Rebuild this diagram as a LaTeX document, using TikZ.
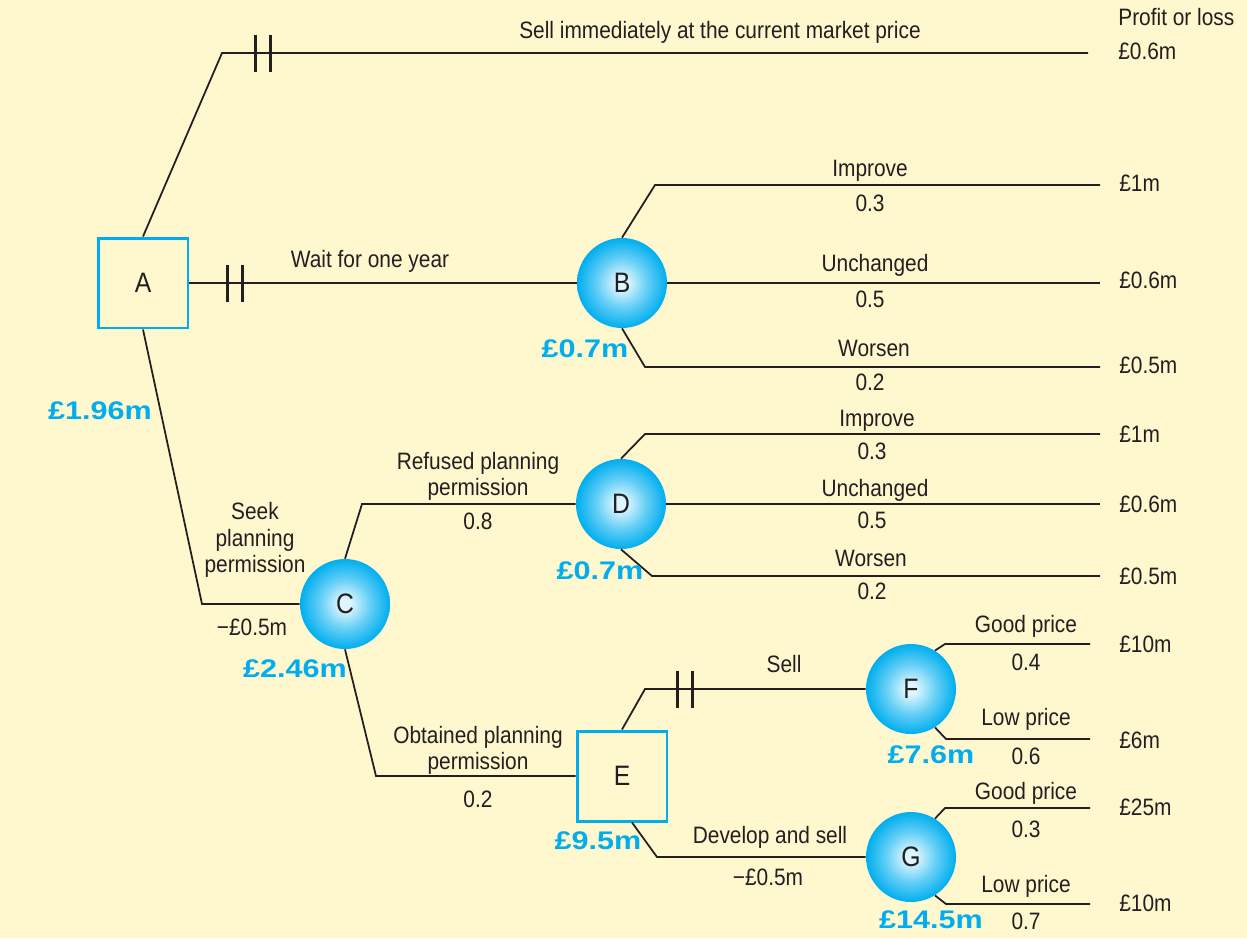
\documentclass[tikz,border=0pt]{standalone}
\usepackage{fontspec}
\setmainfont{Liberation Sans}[FakeStretch=0.88]
\newfontfamily\valfont{Liberation Sans}[FakeStretch=1.2]
\definecolor{bg}{RGB}{255,247,206}
\definecolor{ink}{RGB}{35,31,32}
\definecolor{vblue}{RGB}{0,174,239}
\definecolor{lblue}{RGB}{222,246,254}
\pgfdeclareradialshading{orb}{\pgfpoint{0bp}{0bp}}{color(0bp)=(lblue); color(3bp)=(lblue); color(14bp)=(vblue!55!lblue); color(25bp)=(vblue); color(50bp)=(vblue)}
\begin{document}
\begin{tikzpicture}[x=0.02cm,y=-0.02cm,
  txt/.style={font=\fontsize{13.5}{15.3}\selectfont, text=ink, inner sep=0pt, text height=0.72em, text depth=0pt, align=center, yshift=-0.9pt},
  rtxt/.style={txt, anchor=west},
  val/.style={font=\valfont\bfseries\fontsize{14.5}{16}\selectfont, text=vblue, inner sep=0pt, text height=0.72em, text depth=0pt, yshift=-0.6pt},
  decision/.style={draw=vblue, line width=1.7pt, minimum size=1.8cm, inner sep=0pt, font=\fontsize{16}{18}\selectfont, text=ink},
  chance/.style={circle, shading=orb, minimum size=1.8cm, inner sep=0pt, font=\fontsize{16}{18}\selectfont, text=ink},
  link/.style={line width=1pt, draw=ink},
  gate/.pic={\draw[line width=2.2pt, ink] (-7.5,-18.5)--(-7.5,18.5) (7.5,-18.5)--(7.5,18.5);}
]
\fill[bg] (0,0) rectangle (1247,938);
\useasboundingbox (0,0) rectangle (1247,938);

% nodes
\node[decision] (A) at (143,283) {A};
\node[chance] (B) at (622,283) {B};
\node[chance] (C) at (345,604) {C};
\node[chance] (D) at (621,504) {D};
\node[decision] (E) at (622,776) {E};
\node[chance] (F) at (911,689) {F};
\node[chance] (G) at (911,857) {G};

% coordinates
\coordinate (a1) at (222,53);  \coordinate (a1e) at (1088,53);
\coordinate (a3) at (202,604);
\coordinate (b1) at (655,185); \coordinate (b1e) at (1100,185);
\coordinate (b2e) at (1100,283);
\coordinate (b3) at (645,367); \coordinate (b3e) at (1100,367);
\coordinate (c1) at (362,504);
\coordinate (c2) at (376,776);
\coordinate (d1) at (645,434); \coordinate (d1e) at (1100,434);
\coordinate (d2e) at (1100,504);
\coordinate (d3) at (652,576); \coordinate (d3e) at (1100,576);
\coordinate (e1) at (645,689);
\coordinate (e2) at (657,857);
\coordinate (f1) at (945,644); \coordinate (f1e) at (1090,644);
\coordinate (f2) at (946,739); \coordinate (f2e) at (1090,739);
\coordinate (g1) at (945,808); \coordinate (g1e) at (1090,808);
\coordinate (g2) at (946,904); \coordinate (g2e) at (1090,904);

% connectors
\draw[link] (A.north) -- (a1) -- (a1e);
\draw[link] (A.east) -- (B.west);
\draw[link] (A.south) -- (a3) -- (C.west);
\draw[link] (B.north) -- (b1) -- (b1e);
\draw[link] (B.east) -- (b2e);
\draw[link] (B.south) -- (b3) -- (b3e);
\draw[link] (C.north) -- (c1) -- (D.west);
\draw[link] (C.south) -- (c2) -- (E.west);
\draw[link] (D.north) -- (d1) -- (d1e);
\draw[link] (D.east) -- (d2e);
\draw[link] (D.south) -- (d3) -- (d3e);
\draw[link] (E.north) -- (e1) -- (F.west);
\draw[link] ([xshift=0.2cm]E.south) -- (e2) -- (G.west);
\draw[link] (F.58) -- (f1) -- (f1e);
\draw[link] (F.-58) -- (f2) -- (f2e);
\draw[link] (G.58) -- (g1) -- (g1e);
\draw[link] (G.-58) -- (g2) -- (g2e);

% gates
\pic at (263,53) {gate};
\pic at (235,283) {gate};
\pic at (685,689) {gate};

% labels
\node[txt] (l1) at (720,31) {Sell immediately at the current market price};
\node[rtxt] (l2) at (1118,18) {Profit or loss};
\node[rtxt] (l3) at (1118,52) {£0.6m};
\node[txt] (l4) at (370,260) {Wait for one year};
\node[txt] (l5) at (870,169) {Improve};
\node[txt] (l6) at (870,204) {0.3};
\node[rtxt] (l7) at (1119,184) {£1m};
\node[txt] (l8) at (875,264) {Unchanged};
\node[txt] (l9) at (870,300) {0.5};
\node[rtxt] (l10) at (1119,281) {£0.6m};
\node[txt] (l11) at (874,349) {Worsen};
\node[txt] (l12) at (870,383) {0.2};
\node[rtxt] (l13) at (1119,366) {£0.5m};
\node[txt] (l14) at (255,565) {Seek\\planning\\permission};
\node[txt] (l15) at (252,628) {−£0.5m};
\node[txt] (l16) at (478,488) {Refused planning\\permission};
\node[txt] (l17) at (478,522) {0.8};
\node[txt] (l18) at (478,762) {Obtained planning\\permission};
\node[txt] (l19) at (478,800) {0.2};
\node[txt] (l20) at (877,419) {Improve};
\node[txt] (l21) at (872,452) {0.3};
\node[rtxt] (l22) at (1119,435) {£1m};
\node[txt] (l23) at (875,489) {Unchanged};
\node[txt] (l24) at (872,521) {0.5};
\node[rtxt] (l25) at (1119,505) {£0.6m};
\node[txt] (l26) at (871,559) {Worsen};
\node[txt] (l27) at (872,592) {0.2};
\node[rtxt] (l28) at (1119,577) {£0.5m};
\node[txt] (l29) at (784,665) {Sell};
\node[txt] (l30) at (770,836) {Develop and sell};
\node[txt] (l31) at (768,878) {−£0.5m};
\node[txt] (l32) at (1026,625) {Good price};
\node[txt] (l33) at (1026,663) {0.4};
\node[rtxt] (l34) at (1119,645) {£10m};
\node[txt] (l35) at (1026,718) {Low price};
\node[txt] (l36) at (1026,757) {0.6};
\node[rtxt] (l37) at (1119,741) {£6m};
\node[txt] (l38) at (1026,792) {Good price};
\node[txt] (l39) at (1026,830) {0.3};
\node[rtxt] (l40) at (1119,808) {£25m};
\node[txt] (l41) at (1026,885) {Low price};
\node[txt] (l42) at (1026,922) {0.7};
\node[rtxt] (l43) at (1119,904) {£10m};

% values
\node[val] (v1) at (100,412) {£1.96m};
\node[val] (v2) at (585,350) {£0.7m};
\node[val] (v3) at (295,670) {£2.46m};
\node[val] (v4) at (600,572) {£0.7m};
\node[val] (v5) at (598,842) {£9.5m};
\node[val] (v6) at (931,756) {£7.6m};
\node[val] (v7) at (931,921) {£14.5m};
\end{tikzpicture}
\end{document}
